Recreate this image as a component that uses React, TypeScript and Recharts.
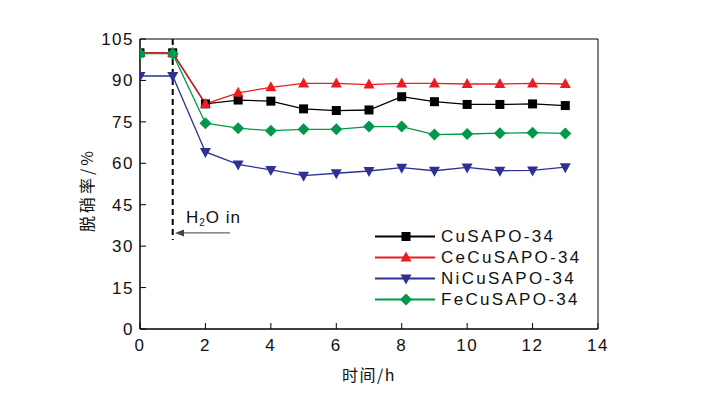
import {
  LineChart, Line, XAxis, YAxis, ReferenceArea, ReferenceLine
} from "recharts";

const hours = [0, 1, 2, 3, 4, 5, 6, 7, 8, 9, 10, 11, 12, 13];
const cuSapo = [100, 100, 81.5, 82.9, 82.5, 79.7, 79.1, 79.3, 84.1, 82.3, 81.3, 81.3, 81.5, 80.9];
const ceCuSapo = [100, 100, 81.5, 85.5, 87.5, 88.9, 88.9, 88.5, 88.9, 88.9, 88.7, 88.7, 88.9, 88.7];
const niCuSapo = [91.6, 91.6, 64.1, 59.6, 57.6, 55.5, 56.4, 57.2, 58.4, 57.3, 58.5, 57.3, 57.4, 58.6];
const feCuSapo = [99.7, 99.7, 74.5, 72.7, 71.8, 72.3, 72.3, 73.3, 73.3, 70.4, 70.6, 70.9, 71.1, 70.8];

const xTicks = [0, 2, 4, 6, 8, 10, 12, 14];
const yTicks = [0, 15, 30, 45, 60, 75, 90, 105];

const FONT = "'Liberation Sans', Arial, 'Noto Sans CJK SC', sans-serif";
const CJK = "'Noto Sans CJK SC', 'Liberation Sans', sans-serif";

type Shape = "square" | "up" | "down" | "diamond";

const series: { key: string; name: string; color: string; shape: Shape; values: number[] }[] = [
  { key: "cu", name: "CuSAPO-34", color: "#000000", shape: "square", values: cuSapo },
  { key: "ce", name: "CeCuSAPO-34", color: "#ec1c24", shape: "up", values: ceCuSapo },
  { key: "ni", name: "NiCuSAPO-34", color: "#2e3192", shape: "down", values: niCuSapo },
  { key: "fe", name: "FeCuSAPO-34", color: "#00994c", shape: "diamond", values: feCuSapo },
];

const data = hours.map((h, i) => ({
  t: h,
  cu: cuSapo[i],
  ce: ceCuSapo[i],
  ni: niCuSapo[i],
  fe: feCuSapo[i],
}));

function Marker({ cx, cy, shape, color }: { cx: number; cy: number; shape: Shape; color: string }) {
  if (shape === "square")
    return <rect x={cx - 4.5} y={cy - 4.5} width={9} height={9} fill={color} />;
  if (shape === "up")
    return <polygon points={`${cx},${cy - 6} ${cx + 5.5},${cy + 4} ${cx - 5.5},${cy + 4}`} fill={color} />;
  if (shape === "down")
    return <polygon points={`${cx},${cy + 6} ${cx + 5.5},${cy - 4} ${cx - 5.5},${cy - 4}`} fill={color} />;
  return <polygon points={`${cx},${cy - 6} ${cx + 6},${cy} ${cx},${cy + 6} ${cx - 6},${cy}`} fill={color} />;
}

const YTick = ({ x, y, payload }: any) => (
  <g>
    <line x1={x + 6} x2={x + 12} y1={y} y2={y} stroke="#000" />
    <text x={x} y={y} dy={6} textAnchor="end" fontSize={17} letterSpacing={1.5} fontFamily={FONT} fill="#111">
      {payload.value}
    </text>
  </g>
);

const XTick = ({ x, y, payload }: any) => (
  <g>
    <line x1={x} x2={x} y1={y - 6} y2={y - 12} stroke="#000" />
    <text x={x} y={y} dy={16} textAnchor="middle" fontSize={17} letterSpacing={1.5} fontFamily={FONT} fill="#111">
      {payload.value}
    </text>
  </g>
);

const Arrow = ({ x1, y1, x2, y2 }: any) => (
  <g>
    <line x1={x1} y1={y1} x2={x2 + 8} y2={y2} stroke="#666" strokeWidth={1.3} />
    <polygon points={`${x2},${y2} ${x2 + 9},${y2 - 3.5} ${x2 + 9},${y2 + 3.5}`} fill="#444" />
    <text x={x2 + 11} y={y2 - 10} fontSize={17} letterSpacing={1} fontFamily={FONT} fill="#111">
      H<tspan fontSize={10} dy={3}>2</tspan><tspan dy={-3}>O in</tspan>
    </text>
  </g>
);

export default function App() {
  return (
    <div style={{ position: "absolute", left: 0, top: 0, width: 701, height: 397, background: "#fff" }}>
      <LineChart width={701} height={397} data={data} margin={{ top: 39, right: 103, bottom: 38, left: 100 }}>
        <XAxis
          dataKey="t" type="number" domain={[0, 14]} ticks={xTicks} height={30} allowDataOverflow
          tickSize={0} tickMargin={6} tick={<XTick />} axisLine={{ stroke: "#000" }}
          label={({ viewBox }: any) => (
            <text x={viewBox.x + viewBox.width / 2} y={viewBox.y + 52} textAnchor="middle"
              fontSize={16} letterSpacing={1.5} fontFamily={CJK} fill="#111">时间/h</text>
          )}
        />
        <YAxis
          type="number" domain={[0, 105]} ticks={yTicks} width={40}
          tickSize={0} tickMargin={6} tick={<YTick />} axisLine={{ stroke: "#000" }}
          label={({ viewBox }: any) => {
            const cx = viewBox.x - 13;
            const cy = viewBox.y + viewBox.height / 2 + 6;
            return (
              <text x={cx} y={cy} transform={`rotate(-90 ${cx} ${cy})`} textAnchor="middle" dy={6}
                fontSize={16} letterSpacing={3} fontFamily={CJK} fill="#111">脱硝率/%</text>
            );
          }}
        />
        <ReferenceArea x1={0} x2={14} y1={0} y2={105} fill="none" stroke="#000" strokeWidth={1} />
        <ReferenceLine segment={[{ x: 1, y: 105 }, { x: 1, y: 32.2 }]} stroke="#000" strokeWidth={2} strokeDasharray="6 4" />
        <ReferenceLine segment={[{ x: 2.75, y: 34.8 }, { x: 1.07, y: 34.8 }]} shape={<Arrow />} />
        {series.map(s => (
          <Line
            key={s.key}
            dataKey={s.key}
            stroke={s.color}
            strokeWidth={1.3}
            isAnimationActive={false}
            dot={(p: any) => <Marker key={`${s.key}-${p.index}`} cx={p.cx} cy={p.cy} shape={s.shape} color={s.color} />}
            activeDot={false}
          />
        ))}
      </LineChart>
      <div style={{ position: "absolute", left: 375, top: 226, fontFamily: FONT }}>
        {series.map(s => (
          <div key={s.key} style={{ display: "flex", alignItems: "center", height: 21 }}>
            <svg width={62} height={21}>
              <line x1={0} x2={60} y1={10.5} y2={10.5} stroke={s.color} strokeWidth={2} />
              <Marker cx={31} cy={10.5} shape={s.shape} color={s.color} />
            </svg>
            <span style={{ fontSize: 17, letterSpacing: 2.3, color: "#111", marginLeft: 4, lineHeight: "21px" }}>
              {s.name}
            </span>
          </div>
        ))}
      </div>
    </div>
  );
}
